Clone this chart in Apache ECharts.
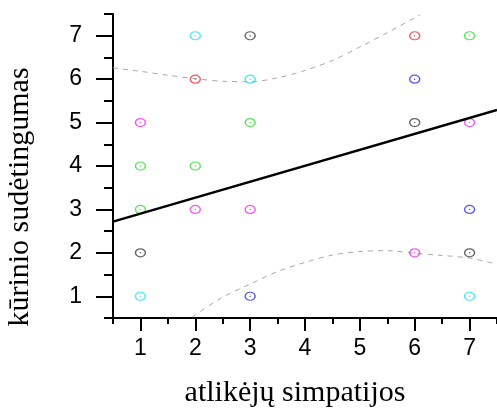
<!DOCTYPE html>
<html>
<head>
<meta charset="utf-8">
<script src="https://cdn.jsdelivr.net/npm/echarts@6/dist/echarts.min.js"></script>
<style>html,body{margin:0;padding:0;background:#fff;}#c{width:497px;height:412px;}</style>
</head>
<body>
<div id="c"></div>
<script>
// ---- data ----
var xTitle = 'atlikėjų simpatijos';
var yTitle = 'kūrinio sudėtingumas';
var xMajorTicks = [1, 2, 3, 4, 5, 6, 7];
var xMinorTicks = [0.5, 1.5, 2.5, 3.5, 4.5, 5.5, 6.5, 7.5];
var yMajorTicks = [1, 2, 3, 4, 5, 6, 7];
var yMinorTicks = [0.5, 1.5, 2.5, 3.5, 4.5, 5.5, 6.5, 7.5];

var magentaPts = [[1, 5], [2, 3], [3, 3], [6, 2], [7, 5]];
var greenPts   = [[1, 4], [1, 3], [2, 4], [3, 5], [7, 7]];
var cyanPts    = [[1, 1], [2, 7], [3, 6], [7, 1]];
var blackPts   = [[1, 2], [3, 7], [6, 5], [7, 2]];
var redPts     = [[2, 6], [6, 7]];
var bluePts    = [[3, 1], [6, 6], [7, 3]];

var fitLine = [[0.5, 2.72], [7.5, 5.29]];
var upperBand = [[0.5, 6.26], [1, 6.18], [1.5, 6.09], [2, 6.01], [2.5, 5.95], [3, 5.94], [3.5, 6.03],
                 [4, 6.2], [4.5, 6.43], [5, 6.74], [5.5, 7.07], [6, 7.41], [6.1, 7.48]];
var lowerBand = [[1.5, 0.12], [2, 0.57], [2.5, 0.98], [3, 1.28], [3.5, 1.57], [4, 1.78], [4.5, 1.95],
                 [5, 2.03], [5.5, 2.05], [6, 1.99], [6.5, 1.94], [7, 1.88], [7.5, 1.74]];

// ---- chart ----
var groups = [
  { d: magentaPts, c: '#f030f0' },
  { d: greenPts,   c: '#30e030' },
  { d: cyanPts,    c: '#20e0f0' },
  { d: blackPts,   c: '#404040' },
  { d: redPts,     c: '#f03030' },
  { d: bluePts,    c: '#3030f0' }
];
var series = [];
series.push({ type: 'line', data: upperBand, smooth: 0.3, symbol: 'none', clip: true,
  lineStyle: { color: '#a8a8a8', width: 1, type: [5, 5] }, z: 1 });
series.push({ type: 'line', data: lowerBand, smooth: 0.3, symbol: 'none', clip: true,
  lineStyle: { color: '#a8a8a8', width: 1, type: [5, 5] }, z: 1 });
groups.forEach(function (g) {
  series.push({ type: 'scatter', data: g.d, symbol: 'circle', symbolSize: [10, 8],
    itemStyle: { color: 'rgba(255,255,255,0)', borderColor: g.c, borderWidth: 1.3 }, z: 2 });
  series.push({ type: 'scatter', data: g.d, symbol: 'circle', symbolSize: 1.5,
    itemStyle: { color: g.c }, z: 2 });
});
series.push({ type: 'line', data: fitLine, symbol: 'none', clip: true,
  lineStyle: { color: '#000', width: 2.5 }, z: 3 });

var labelFont = { fontFamily: 'Liberation Sans', fontSize: 23, color: '#000' };
var axisCommon = {
  type: 'value', min: 0.5, max: 7.5, splitLine: { show: false }
};

var chart = echarts.init(document.getElementById('c'), null, { renderer: 'canvas' });
chart.setOption({
  animation: false,
  backgroundColor: '#fff',
  grid: { left: 113, right: 0, top: 14, bottom: 94, containLabel: false },
  xAxis: [
    Object.assign({}, axisCommon, {
      position: 'bottom', offset: 0,
      axisLine: { show: true, lineStyle: { color: '#000', width: 2 } },
      axisTick: { show: true, customValues: xMajorTicks, length: 13, lineStyle: { color: '#000', width: 2 } },
      axisLabel: Object.assign({ customValues: xMajorTicks, margin: 19 }, labelFont)
    }),
    Object.assign({}, axisCommon, {
      position: 'bottom', offset: 0,
      axisLine: { show: false },
      axisTick: { show: true, customValues: xMinorTicks, length: 6, lineStyle: { color: '#000', width: 2 } },
      axisLabel: { show: false }
    })
  ],
  yAxis: [
    Object.assign({}, axisCommon, {
      position: 'left', offset: 0,
      axisLine: { show: true, lineStyle: { color: '#000', width: 2 } },
      axisTick: { show: true, customValues: yMajorTicks, length: 17, lineStyle: { color: '#000', width: 2 } },
      axisLabel: Object.assign({ customValues: yMajorTicks, margin: 31 }, labelFont)
    }),
    Object.assign({}, axisCommon, {
      position: 'left', offset: 0,
      axisLine: { show: false },
      axisTick: { show: true, customValues: yMinorTicks, length: 9, lineStyle: { color: '#000', width: 2 } },
      axisLabel: { show: false }
    })
  ],
  graphic: [
    { type: 'text', x: 295, y: 393, style: { text: xTitle, fontFamily: 'Liberation Serif', fontSize: 30,
      fill: '#000', align: 'center', verticalAlign: 'middle' } },
    { type: 'text', x: 20, y: 197, rotation: Math.PI / 2, style: { text: yTitle, fontFamily: 'Liberation Serif',
      fontSize: 30, fill: '#000', align: 'center', verticalAlign: 'middle' } }
  ],
  series: series
});
</script>
</body>
</html>
